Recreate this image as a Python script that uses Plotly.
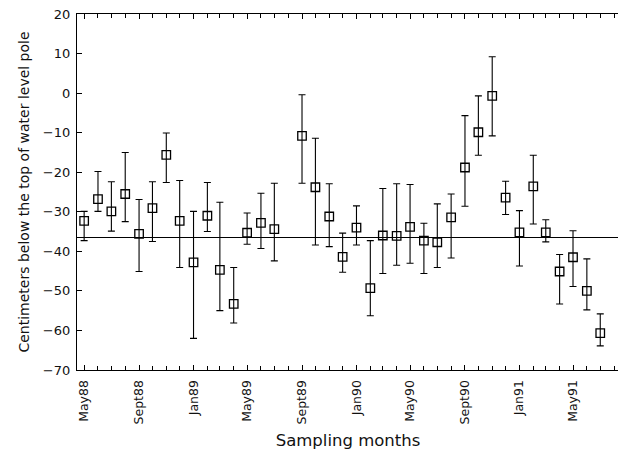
import plotly.graph_objects as go

# Sampling months (Aug 1989 missing)
months = [
    "1988-05-01", "1988-06-01", "1988-07-01", "1988-08-01", "1988-09-01", "1988-10-01",
    "1988-11-01", "1988-12-01", "1989-01-01", "1989-02-01", "1989-03-01", "1989-04-01",
    "1989-05-01", "1989-06-01", "1989-07-01", "1989-09-01", "1989-10-01", "1989-11-01",
    "1989-12-01", "1990-01-01", "1990-02-01", "1990-03-01", "1990-04-01", "1990-05-01",
    "1990-06-01", "1990-07-01", "1990-08-01", "1990-09-01", "1990-10-01", "1990-11-01",
    "1990-12-01", "1991-01-01", "1991-02-01", "1991-03-01", "1991-04-01", "1991-05-01",
    "1991-06-01", "1991-07-01",
]
mean_depth = [
    -32.3, -26.8, -29.9, -25.5, -35.6, -29.1, -15.6, -32.3, -42.8, -31.0, -44.7, -53.3,
    -35.3, -32.8, -34.4, -10.8, -23.8, -31.2, -41.4, -34.0, -49.3, -36.0, -36.1, -33.8,
    -37.3, -37.7, -31.4, -18.8, -9.9, -0.7, -26.4, -35.2, -23.6, -35.2, -45.1, -41.5,
    -50.0, -60.7,
]
upper = [
    -29.9, -19.8, -22.4, -15.0, -26.9, -22.4, -10.1, -22.1, -29.9, -22.6, -27.6, -44.1,
    -30.3, -25.3, -22.8, -0.4, -11.4, -22.9, -35.4, -28.5, -37.3, -24.1, -22.9, -23.1,
    -32.9, -28.0, -25.5, -5.7, -0.7, 9.2, -22.3, -29.7, -15.7, -32.0, -40.8, -34.8,
    -41.9, -55.8,
]
lower = [
    -37.3, -29.9, -34.9, -32.5, -45.1, -37.5, -22.6, -44.1, -62.0, -35.0, -55.0, -58.1,
    -38.2, -39.3, -42.4, -22.8, -38.4, -38.8, -45.3, -38.4, -56.3, -45.6, -43.5, -43.0,
    -45.6, -44.1, -41.7, -28.6, -15.7, -10.8, -30.7, -43.7, -33.1, -37.6, -53.3, -48.9,
    -54.8, -63.9,
]
overall_mean = -36.5

tick_dates = ["1988-05-01", "1988-09-01", "1989-01-01", "1989-05-01", "1989-09-01",
              "1990-01-01", "1990-05-01", "1990-09-01", "1991-01-01", "1991-05-01"]
tick_labels = ["May88", "Sept88", "Jan89", "May89", "Sept89",
               "Jan90", "May90", "Sept90", "Jan91", "May91"]
y_ticks = [20, 10, 0, -10, -20, -30, -40, -50, -60, -70]

err_plus = [u - m for u, m in zip(upper, mean_depth)]
err_minus = [m - l for m, l in zip(mean_depth, lower)]

fig = go.Figure()
fig.add_trace(go.Scatter(
    x=months, y=mean_depth, mode="markers",
    marker=dict(symbol="square-open", size=8.5, color="black", line=dict(width=1.3, color="black")),
    error_y=dict(type="data", symmetric=False, array=err_plus, arrayminus=err_minus,
                 color="black", thickness=1.1, width=3.5),
    showlegend=False,
))
fig.add_shape(type="line", xref="paper", x0=0, x1=1, yref="y", y0=overall_mean, y1=overall_mean,
              line=dict(color="black", width=1.2))

font_family = "DejaVu Sans, Liberation Sans, sans-serif"
# The page body adds an 8px margin, so the figure is sized to fill the rest of the window.
fig.update_layout(
    width=618, height=446,
    margin=dict(l=69, r=7, t=6, b=84),
    paper_bgcolor="white", plot_bgcolor="white",
    font=dict(family=font_family, color="#111", size=13),
    xaxis=dict(
        type="date", range=["1988-04-15", "1991-08-12"], automargin=False,
        tickvals=tick_dates, ticktext=tick_labels, tickangle=-90,
        ticks="inside", ticklen=5, tickcolor="black", tickwidth=1,
        minor=dict(dtick="M1", tick0="1988-05-01", ticks="inside", ticklen=4, tickcolor="black", tickwidth=1),
        showline=True, linecolor="black", linewidth=1.2, mirror="ticks",
        showgrid=False, zeroline=False,
        ticklabelstandoff=4,
        tickfont=dict(size=12.5),
        title=dict(text="Sampling months", font=dict(size=16.5), standoff=10),
    ),
    yaxis=dict(
        range=[-70, 20], tickvals=y_ticks, automargin=False,
        ticks="inside", ticklen=5, tickcolor="black",
        showline=True, linecolor="black", linewidth=1.2, mirror=True,
        showgrid=False, zeroline=False,
        ticklabelstandoff=3, ticklabeloverflow="allow",
        tickfont=dict(size=13),
        title=dict(text="Centimeters below the top of water level pole", font=dict(size=14), standoff=9),
    ),
)
fig.write_html("out.html")
